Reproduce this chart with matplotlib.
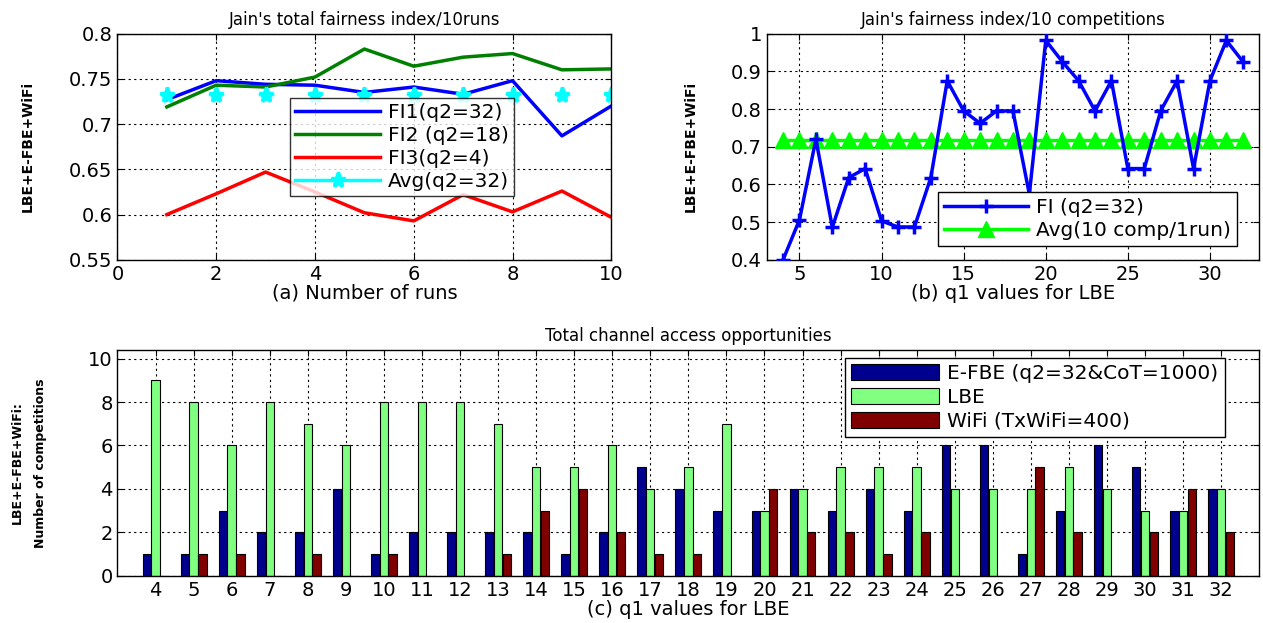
import matplotlib
matplotlib.use('Agg')

import matplotlib.pyplot as plt
import numpy as np
from matplotlib.lines import Line2D

plt.rcParams['font.family'] = ['DejaVu Sans']

# ── (a) Jain's total fairness index over 10 runs ──
runs = [1, 2, 3, 4, 5, 6, 7, 8, 9, 10]
fi1_q32 = [0.727, 0.748, 0.744, 0.743, 0.735, 0.741, 0.733, 0.748, 0.687, 0.720]
fi2_q18 = [0.719, 0.743, 0.741, 0.752, 0.783, 0.764, 0.774, 0.778, 0.760, 0.761]
fi3_q4 = [0.600, 0.623, 0.647, 0.625, 0.602, 0.593, 0.622, 0.603, 0.626, 0.597]
avg_q32 = [0.732] * 10

# ── (b) Jain's fairness index per q1 ──
q1_vals = list(range(4, 33))
fi_q1 = [0.40, 0.506, 0.72, 0.486, 0.618, 0.642, 0.503, 0.487, 0.487, 0.618,
         0.875, 0.795, 0.762, 0.795, 0.795, 0.574, 0.982, 0.926, 0.875, 0.795,
         0.875, 0.642, 0.642, 0.795, 0.875, 0.642, 0.875, 0.982, 0.926]
avg_comp = [0.718] * len(q1_vals)

# ── (c) total channel access opportunities ──
efbe = [1, 1, 3, 2, 2, 4, 1, 2, 2, 2, 2, 1, 2, 5, 4, 3, 3, 4, 3, 4, 3, 6, 6, 1, 3, 6, 5, 3, 4]
lbe = [9, 8, 6, 8, 7, 6, 8, 8, 8, 7, 5, 5, 6, 4, 5, 7, 3, 4, 5, 5, 5, 4, 4, 4, 5, 4, 3, 3, 4]
wifi = [0, 1, 1, 0, 1, 0, 1, 0, 0, 1, 3, 4, 2, 1, 1, 0, 4, 2, 2, 1, 2, 0, 0, 5, 2, 0, 2, 4, 2]

fig = plt.figure(figsize=(12.63, 6.23), dpi=100, facecolor='white')
ax1 = fig.add_axes([0.093, 0.583, 0.391, 0.363])
ax2 = fig.add_axes([0.607, 0.583, 0.390, 0.363])
ax3 = fig.add_axes([0.093, 0.0755, 0.904, 0.363])

def matlab_style(ax, tsize):
    ax.grid(True, color='black', linestyle=(0, (2, 3)), linewidth=0.8)
    ax.tick_params(direction='in', top=True, right=True, labelsize=tsize, length=4)
    for s in ax.spines.values():
        s.set_color('black')
        s.set_linewidth(1.0)
    ax.set_axisbelow(True)

def box_legend(leg):
    leg.get_frame().set_linewidth(1.0)
    leg.get_frame().set_edgecolor('black')

ylab = 'LBE+E-FBE+WiFi'

# ── panel (a) ──
ax1.plot(runs, fi1_q32, color='#0000ff', lw=2.5, label='FI1(q2=32)')
ax1.plot(runs, fi2_q18, color='#008000', lw=2.5, label='FI2 (q2=18)')
ax1.plot(runs, fi3_q4, color='#ff0000', lw=2.5, label='FI3(q2=4)')
ax1.plot(runs, avg_q32, color='#00ffff', lw=0, marker='*', markersize=11,
         markeredgewidth=2.5)
h_avg = Line2D([], [], color='#00ffff', lw=2.5, marker='*', markersize=11, markeredgewidth=2.5)
h1, l1 = ax1.get_legend_handles_labels()
ax1.set_xlim(0, 10)
ax1.set_ylim(0.55, 0.8)
ax1.set_xticks([0, 2, 4, 6, 8, 10])
ax1.set_yticks([0.55, 0.6, 0.65, 0.7, 0.75, 0.8])
ax1.set_yticklabels(['0.55', '0.6', '0.65', '0.7', '0.75', '0.8'])
matlab_style(ax1, 14)
ax1.set_title("Jain's total fairness index/10runs", fontsize=12, pad=6)
ax1.set_xlabel('(a) Number of runs', fontsize=14, labelpad=0)
ax1.set_ylabel(ylab, fontsize=10, fontweight='bold')
ax1.yaxis.set_label_coords(-0.168, 0.5)
leg1 = ax1.legend(h1 + [h_avg], l1 + ['Avg(q2=32)'], loc='upper left',
                  bbox_to_anchor=(0.35, 0.715), fontsize=14.5, handlelength=4.2,
                  frameon=True, fancybox=False, borderpad=0.25,
                  labelspacing=0.2, handletextpad=0.4, borderaxespad=0)
box_legend(leg1)

# ── panel (b) ──
ax2.plot(q1_vals, fi_q1, color='#0000ff', lw=2.5, marker='+', markersize=10,
         markeredgewidth=2.5, label='FI (q2=32)', zorder=3)
ax2.plot(q1_vals, avg_comp, color='#00ff00', lw=2.5, marker='^', markersize=11,
         label='Avg(10 comp/1run)', zorder=2)
ax2.set_xlim(3, 33)
ax2.set_ylim(0.4, 1.0)
ax2.set_xticks([5, 10, 15, 20, 25, 30])
ax2.set_yticks([0.4, 0.5, 0.6, 0.7, 0.8, 0.9, 1.0])
ax2.set_yticklabels(['0.4', '0.5', '0.6', '0.7', '0.8', '0.9', '1'])
matlab_style(ax2, 14)
ax2.set_title("Jain's fairness index/10 competitions", fontsize=12, pad=6)
ax2.set_xlabel('(b) q1 values for LBE', fontsize=14, labelpad=0)
ax2.set_ylabel(ylab, fontsize=10, fontweight='bold')
ax2.yaxis.set_label_coords(-0.14, 0.5)
leg2 = ax2.legend(loc='lower left', bbox_to_anchor=(0.347, 0.06), fontsize=14.5,
                  handlelength=4.2, frameon=True, fancybox=False,
                  borderpad=0.3, labelspacing=0.2, handletextpad=0.4,
                  framealpha=1, borderaxespad=0)
box_legend(leg2)

# ── panel (c) ──
x = np.array(q1_vals)
bw = 0.22
ax3.bar(x - 0.23, efbe, bw, color='#00008f', edgecolor='black', lw=0.8,
        label='E-FBE (q2=32&CoT=1000)')
ax3.bar(x, lbe, bw, color='#80ff80', edgecolor='black', lw=0.8, label='LBE')
ax3.bar(x + 0.23, wifi, bw, color='#800000', edgecolor='black', lw=0.8,
        label='WiFi (TxWiFi=400)')
ax3.set_xlim(3, 33)
ax3.set_ylim(0, 10.4)
ax3.set_xticks(q1_vals)
ax3.set_yticks([0, 2, 4, 6, 8, 10])
matlab_style(ax3, 14)
ax3.set_title('Total channel access opportunities', fontsize=12, pad=6)
ax3.set_xlabel('(c) q1 values for LBE', fontsize=14, labelpad=0)
ax3.set_ylabel(ylab + ':\nNumber of competitions', fontsize=9, fontweight='bold',
               linespacing=2.0)
ax3.yaxis.set_label_coords(-0.062, 0.5)
leg3 = ax3.legend(loc='upper left', bbox_to_anchor=(0.637, 0.965), fontsize=14.5,
                  handlelength=4.4, handleheight=0.85, frameon=True, fancybox=False,
                  borderpad=0.3, labelspacing=0.25, handletextpad=0.4,
                  framealpha=1, borderaxespad=0)
box_legend(leg3)

fig.savefig('out.png', dpi=100, facecolor='white')
